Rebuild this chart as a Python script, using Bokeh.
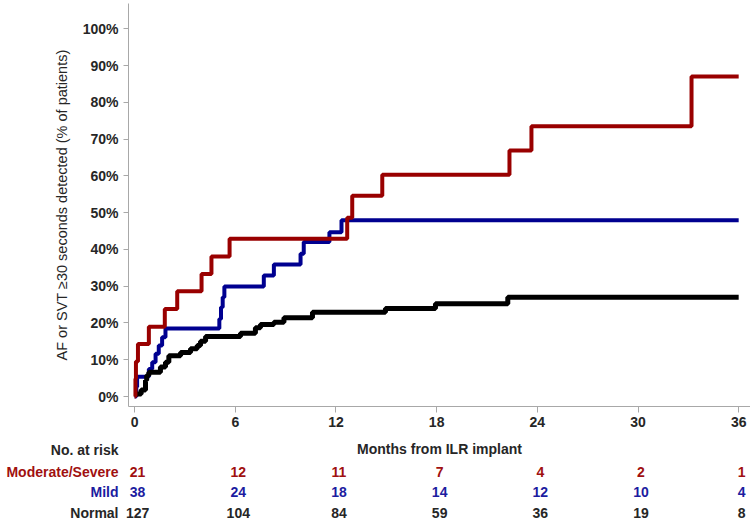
from bokeh.plotting import figure
from bokeh.models import Range1d, FixedTicker, PrintfTickFormatter
from bokeh.core.properties import value
from bokeh.embed import file_html
from bokeh.resources import INLINE

# ---------------- data ----------------
mod_t = [0, 0.05, 0.08, 0.2, 0.85, 1.80, 2.54, 3.99, 4.58, 5.66, 12.67, 12.97, 14.76, 22.34, 23.65, 33.19, 36.0]
mod_v = [0, 4.8, 9.5, 14.3, 19.0, 23.8, 28.6, 33.3, 38.1, 42.9, 48.6, 54.6, 60.3, 66.9, 73.5, 87.0, 87.0]

mild_t = [0, 0.1, 0.15, 0.85, 1.05, 1.25, 1.44, 1.64, 1.84, 5.05, 5.15, 5.25, 5.35, 7.70, 8.30, 9.89, 10.08, 11.61, 12.33, 36.0]
mild_v = [0, 2.6, 5.4, 7.5, 9.3, 11.6, 13.9, 16.1, 18.5, 21.1, 24.3, 27.0, 29.9, 32.9, 35.9, 38.8, 42.0, 44.7, 47.9, 47.9]

norm_t = [0, 0.39, 0.65, 0.72, 0.85, 1.54, 1.84, 2.04, 2.74, 3.33, 3.73, 3.93, 4.23, 6.31, 7.2, 7.5, 8.3, 8.9, 10.6, 14.95, 17.93, 22.24, 36.0]
norm_v = [0.7, 1.8, 4.4, 5.7, 6.6, 8.0, 9.3, 11.1, 12.0, 13.0, 13.9, 15.0, 16.3, 17.2, 18.7, 19.6, 20.2, 21.4, 22.9, 23.9, 25.2, 27.0, 27.0]

x_ticks = [0, 6, 12, 18, 24, 30, 36]
y_ticks = [0, 10, 20, 30, 40, 50, 60, 70, 80, 90, 100]

risk_groups = ["Moderate/Severe", "Mild", "Normal"]
risk_mod = [21, 12, 11, 7, 4, 2, 1]
risk_mild = [38, 24, 18, 14, 12, 10, 4]
risk_norm = [127, 104, 84, 59, 36, 19, 8]

# ---------------- styling / layout ----------------
FONT = "Liberation Sans"
RED = "#990000"
BLUE = "#000090"
BLACK = "#000000"
RED_TXT = "#a01010"
BLUE_TXT = "#1c1ca0"
TXT = "#262626"
AXIS_C = "#a8a8a8"

W = 750
H1, H2 = 436, 89
# pixel calibration of the reference
PX0, PPM = 134.1, 16.78   # x pixel of month 0, px per month
PY0, PPP = 396.0, 3.677   # y pixel of 0 %, px per percent

def xd(px):
    return (px - PX0) / PPM

def yd(py):
    return (PY0 - py) / PPP

FRAME_L, FRAME_T, FRAME_B = 128, 3, 406

p = figure(width=W, height=H1,
           x_range=Range1d(xd(FRAME_L), xd(W)),
           y_range=Range1d(yd(FRAME_B), yd(FRAME_T)),
           output_backend="svg", toolbar_location=None,
           min_border_left=FRAME_L, min_border_right=0,
           min_border_top=FRAME_T, min_border_bottom=H1 - FRAME_B)
p.outline_line_color = None
p.xgrid.visible = False
p.ygrid.visible = False

# curves
p.step(mild_t, mild_v, mode="after", line_color=BLUE, line_width=4)
p.step(norm_t, norm_v, mode="after", line_color=BLACK, line_width=5)
p.step(mod_t, mod_v, mode="after", line_color=RED, line_width=4)

# axes
for ax in (p.xaxis[0], p.yaxis[0]):
    ax.axis_line_color = AXIS_C
    ax.major_tick_line_color = AXIS_C
    ax.minor_tick_line_color = None
    ax.major_tick_in = 0
    ax.major_label_text_font = FONT
    ax.major_label_text_font_style = "bold"
    ax.major_label_text_font_size = "14px"
    ax.major_label_text_color = TXT
    ax.axis_label_text_font = FONT
    ax.axis_label_text_color = TXT

p.yaxis.ticker = FixedTicker(ticks=y_ticks)
p.yaxis.formatter = PrintfTickFormatter(format="%d%%")
p.yaxis.major_tick_out = 5
p.yaxis.major_label_standoff = 5
p.yaxis.axis_label = "AF or SVT \u226530 seconds detected (% of patients)"
p.yaxis.axis_label_text_font_style = "normal"
p.yaxis.axis_label_text_font_size = "14.5px"
p.yaxis.axis_label_standoff = 10

p.xaxis.ticker = FixedTicker(ticks=x_ticks)
p.xaxis.major_tick_out = 6
p.xaxis.major_label_standoff = 4

# ---------------- number-at-risk table (second root, same x scale) ----------------
t = figure(width=W, height=H2,
           x_range=Range1d(xd(0), xd(W)),
           y_range=Range1d(H1 + H2, H1),   # y in page-pixel rows
           output_backend="svg", toolbar_location=None,
           x_axis_type=None, y_axis_type=None,
           min_border_left=0, min_border_right=0, min_border_top=0, min_border_bottom=0)
t.outline_line_color = None
t.xgrid.visible = False
t.ygrid.visible = False

ROW_Y = [471, 491, 512]
HEAD_Y = 448
LAB_X = xd(118)

t.text(x=[xd((FRAME_L + W) / 2)], y=[HEAD_Y], text=["Months from ILR implant"],
       text_align="center", text_baseline="middle", text_font=value(FONT),
       text_font_style="bold", text_font_size="14px", text_color=TXT)
t.text(x=[LAB_X], y=[HEAD_Y + 1], text=["No. at risk"],
       text_align="right", text_baseline="middle", text_font=value(FONT),
       text_font_style="bold", text_font_size="14px", text_color=TXT)

row_counts = [risk_mod, risk_mild, risk_norm]
row_colors = [RED_TXT, BLUE_TXT, TXT]
for name, counts, col, py in zip(risk_groups, row_counts, row_colors, ROW_Y):
    t.text(x=[LAB_X], y=[py], text=[name], text_align="right", text_baseline="middle",
           text_font=value(FONT), text_font_style="bold", text_font_size="14px", text_color=col)
    t.text(x=x_ticks, y=[py] * len(x_ticks), text=[str(c) for c in counts],
           text_align="center", text_baseline="middle", text_font=value(FONT),
           text_font_style="bold", text_font_size="14px", text_color=col, x_offset=3)

open("out.html", "w").write(file_html([p, t], INLINE))
